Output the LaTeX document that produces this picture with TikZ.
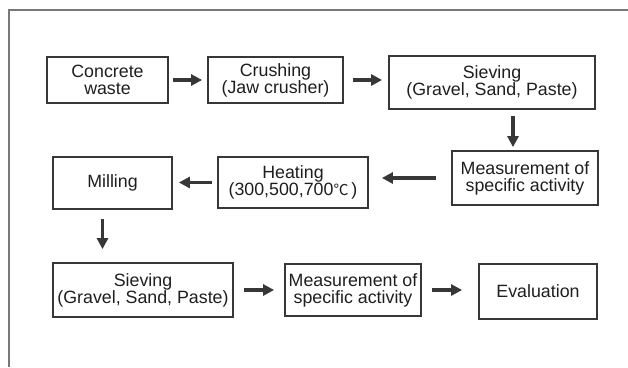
\documentclass[tikz,border=0pt]{standalone}
\usepackage{fontspec}
\setmainfont{Liberation Sans}
\newfontfamily\cjk{Noto Sans CJK SC}
\usepackage{xcolor}
\usetikzlibrary{arrows.meta,positioning,calc}
\definecolor{boxgray}{RGB}{55,55,55}
\definecolor{textgray}{RGB}{30,30,30}
\definecolor{framegray}{RGB}{120,120,120}

\begin{document}
\begin{tikzpicture}[x=1pt,y=-1pt,
  pbox/.style = {
    rectangle, draw=boxgray, line width=1.8pt, inner sep=0pt,
    align=center, text=textgray, font=\fontsize{17.8}{17}\selectfont
  },
  arr/.style = {-{Triangle[length=11pt,width=11pt]}, line width=3.2pt, boxgray}
]
  \useasboundingbox (0,0) rectangle (628,367);
  \draw[framegray, line width=1.4pt] (628,10) -- (9,10) -- (9,367);

  \node[pbox, minimum width=121pt, minimum height=46pt] (waste)  at (107.5,80)  {Concrete\\waste};
  \node[pbox, minimum width=135pt, minimum height=46pt] (crush)  at (275.5,80)  {Crushing\\(Jaw crusher)};
  \node[pbox, minimum width=206pt, minimum height=53pt] (sieveA) at (492,82.5)  {Sieving\\(Gravel, Sand, Paste)};
  \node[pbox, minimum width=146pt, minimum height=54pt] (measA)  at (525,178)   {Measurement of\\specific activity};
  \node[pbox, minimum width=150pt, minimum height=51pt] (heat)   at (293,182.5) {Heating\\(300,500,700{\cjk\fontsize{15}{17}\selectfont ℃}\,)};
  \node[pbox, minimum width=119pt, minimum height=52pt] (mill)   at (112.5,183) {Milling};
  \node[pbox, minimum width=180pt, minimum height=54pt] (sieveB) at (143,290)   {Sieving\\(Gravel, Sand, Paste)};
  \node[pbox, minimum width=136pt, minimum height=52pt] (measB)  at (353,290)   {Measurement of\\specific activity};
  \node[pbox, minimum width=118pt, minimum height=55pt] (eval)   at (538,291.5) {Evaluation};

  \draw[arr, shorten <=4pt,  shorten >=5pt]  (waste.east) -- (crush.west);
  \draw[arr, shorten <=9pt,  shorten >=6pt]  (crush.east) -- (crush.east -| sieveA.west);
  \draw[arr, shorten <=6pt,  shorten >=3pt]  ([xshift=21pt]sieveA.south) -- ([xshift=-12pt]measA.north);
  \draw[arr, shorten <=15pt, shorten >=13pt] (measA.west) -- (heat.east |- measA.west);
  \draw[arr, shorten <=5pt,  shorten >=6pt]  (heat.west) -- (mill.east |- heat.west);
  \draw[arr, shorten <=9pt,  shorten >=13pt] ([xshift=-10pt]mill.south) -- ([xshift=-10pt]mill.south |- sieveB.north);
  \draw[arr, shorten <=10pt, shorten >=10pt] (sieveB.east) -- (measB.west);
  \draw[arr, shorten <=10pt, shorten >=16pt] (measB.east) -- (measB.east -| eval.west);
\end{tikzpicture}
\end{document}
